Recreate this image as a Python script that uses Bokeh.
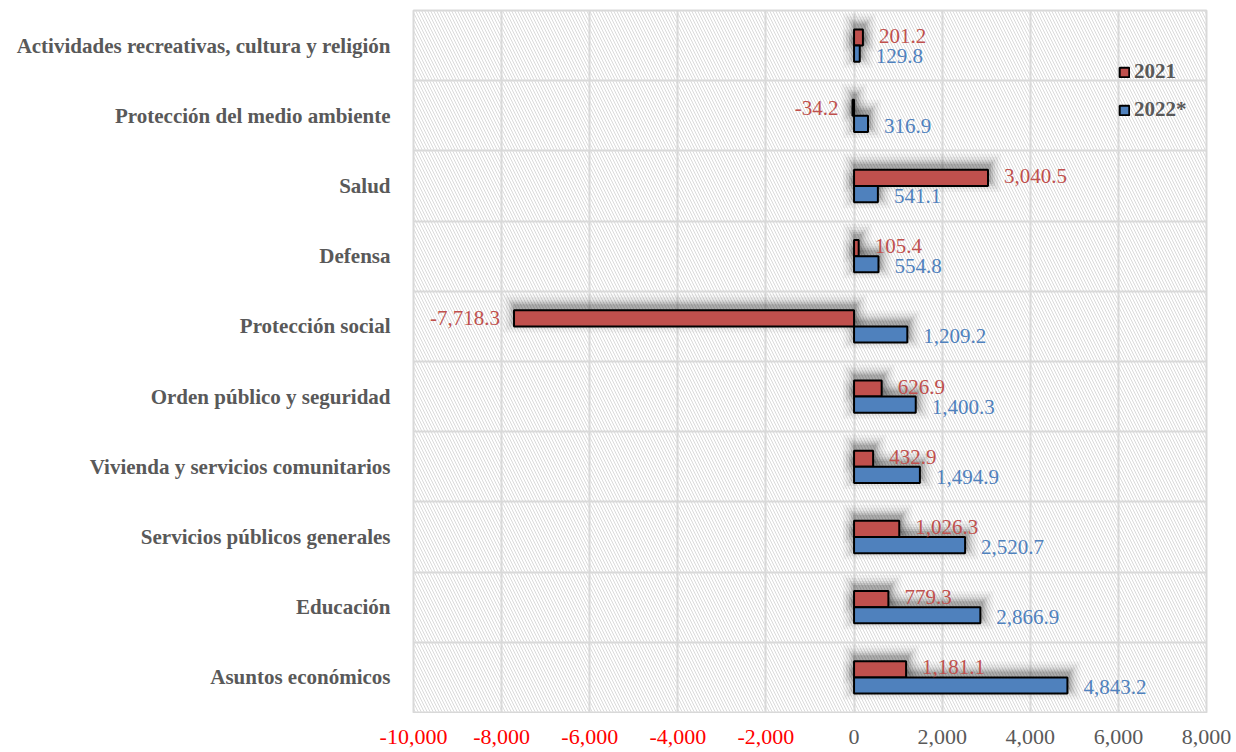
from bokeh.plotting import figure
from bokeh.layouts import column
from bokeh.models import (ColumnDataSource, Range1d, FixedTicker, BoxAnnotation,
                          Legend, LegendItem)
from bokeh.core.properties import value
from bokeh.embed import file_html
from bokeh.resources import INLINE

# ---------------- data ----------------
categories = [
    "Actividades recreativas, cultura y religión",
    "Protección del medio ambiente",
    "Salud",
    "Defensa",
    "Protección social",
    "Orden público y seguridad",
    "Vivienda y servicios comunitarios",
    "Servicios públicos generales",
    "Educación",
    "Asuntos económicos",
]
values_2021 = [201.2, -34.2, 3040.5, 105.4, -7718.3, 626.9, 432.9, 1026.3, 779.3, 1181.1]
values_2022 = [129.8, 316.9, 541.1, 554.8, 1209.2, 1400.3, 1494.9, 2520.7, 2866.9, 4843.2]
series_names = ["2021", "2022*"]
x_ticks = [-10000, -8000, -6000, -4000, -2000, 0, 2000, 4000, 6000, 8000]

# ---------------- styling ----------------
RED = "#C0504D"
BLUE = "#4F81BD"
GRAY_TXT = "#595959"
GRID = "#D9D9D9"
FONT = "Liberation Serif"

W = 1236
BL, BR, BT = 413, 30, 10
FRAME_W = W - BL - BR
FRAME_H = 702
H1 = BT + FRAME_H + 1
H2 = 752 - H1

n = len(categories)
cat_y = [n - 0.5 - i for i in range(n)]
dy = 0.115
bar_h = 0.23

def fmt(v):
    return f"{v:,.1f}"

red_src = ColumnDataSource(dict(
    y=[c + dy for c in cat_y], v=values_2021, zero=[0] * n,
    txt=[fmt(v) for v in values_2021]))
blue_src = ColumnDataSource(dict(
    y=[c - dy for c in cat_y], v=values_2022, zero=[0] * n,
    txt=[fmt(v) for v in values_2022]))

p = figure(width=W, height=H1, output_backend="svg", toolbar_location=None,
           x_range=Range1d(x_ticks[0], x_ticks[-1]), y_range=Range1d(0, n),
           min_border_left=BL, min_border_right=BR, min_border_top=BT,
           min_border_bottom=1)
p.frame_align = False

p.background_fill_color = "white"
p.border_fill_color = "white"
p.outline_line_color = GRID
p.outline_line_width = 2

# hatched plot area
hatch = BoxAnnotation(fill_alpha=0, line_alpha=0, hatch_pattern="\\",
                      hatch_color="#DADADA", hatch_scale=6, hatch_weight=1,
                      level="underlay")
p.add_layout(hatch)

# grids
p.xgrid.ticker = FixedTicker(ticks=x_ticks)
p.xgrid.grid_line_color = GRID
p.xgrid.grid_line_width = 2
p.ygrid.ticker = FixedTicker(ticks=list(range(n + 1)))
p.ygrid.grid_line_color = GRID
p.ygrid.grid_line_width = 2

# shadows (soft, layered, shifted upward)
px_x = (x_ticks[-1] - x_ticks[0]) / FRAME_W
px_y = n / FRAME_H
for e, a in [(11, 0.035), (8, 0.05), (5, 0.07), (3, 0.09), (1, 0.12)]:
    for src, yo in [(red_src, dy), (blue_src, -dy)]:
        ys = [c + yo + 5 * px_y for c in cat_y]
        vals = src.data["v"]
        lefts = [min(0, v) - e * px_x for v in vals]
        rights = [max(0, v) + (e + 2) * px_x for v in vals]
        p.hbar(y=ys, left=lefts, right=rights, height=bar_h + 2 * e * px_y,
               fill_color="black", fill_alpha=a, line_alpha=0)

r21 = p.hbar(y="y", left="zero", right="v", height=bar_h, source=red_src,
             fill_color=RED, line_color="black", line_width=2)
r22 = p.hbar(y="y", left="zero", right="v", height=bar_h, source=blue_src,
             fill_color=BLUE, line_color="black", line_width=2)

# data labels
pos_r = ColumnDataSource(dict(
    x=[v for v in values_2021 if v >= 0],
    y=[c + dy for c, v in zip(cat_y, values_2021) if v >= 0],
    t=[fmt(v) for v in values_2021 if v >= 0]))
neg_r = ColumnDataSource(dict(
    x=[v for v in values_2021 if v < 0],
    y=[c + dy for c, v in zip(cat_y, values_2021) if v < 0],
    t=[fmt(v) for v in values_2021 if v < 0]))
p.text(x="x", y="y", text="t", source=pos_r, x_offset=16, y_offset=-2,
       text_align="left", text_baseline="middle", text_color=RED,
       text_font=value(FONT), text_font_size="21px")
p.text(x="x", y="y", text="t", source=neg_r, x_offset=-14, y_offset=0,
       text_align="right", text_baseline="middle", text_color=RED,
       text_font=value(FONT), text_font_size="21px")
p.text(x="v", y="y", text="txt", source=blue_src, x_offset=16, y_offset=2,
       text_align="left", text_baseline="middle", text_color=BLUE,
       text_font=value(FONT), text_font_size="21px")

# axes
p.xaxis.visible = False
p.yaxis.ticker = FixedTicker(ticks=cat_y)
p.yaxis.major_label_overrides = {c: name for c, name in zip(cat_y, categories)}
p.yaxis.major_label_text_font = FONT
p.yaxis.major_label_text_font_style = "bold"
p.yaxis.major_label_text_font_size = "21px"
p.yaxis.major_label_text_color = GRAY_TXT
p.yaxis.major_tick_line_color = None
p.yaxis.minor_tick_line_color = None
p.yaxis.axis_line_color = None
p.yaxis.major_label_standoff = 17

# legend
legend = Legend(items=[LegendItem(label=series_names[0], renderers=[r21]),
                       LegendItem(label=series_names[1], renderers=[r22])],
                location=(705, 590), orientation="vertical",
                glyph_width=12, glyph_height=12, label_standoff=4, spacing=13,
                padding=0, margin=0,
                label_text_font=FONT, label_text_font_style="bold",
                label_text_font_size="21px", label_text_color=GRAY_TXT,
                background_fill_alpha=0, border_line_alpha=0)
p.add_layout(legend)

# x tick label strip (same scale as the main frame, negative ticks in red)
scale = (x_ticks[-1] - x_ticks[0]) / FRAME_W
x2 = Range1d(x_ticks[0] - BL * scale, x_ticks[-1] + BR * scale)
p2 = figure(width=W, height=H2, output_backend="svg", toolbar_location=None,
            x_range=x2, y_range=Range1d(0, 1), min_border=0)
p2.frame_align = False
p2.axis.visible = False
p2.grid.visible = False
p2.outline_line_color = None
p2.background_fill_color = "white"
p2.border_fill_color = "white"
tick_src = ColumnDataSource(dict(
    x=x_ticks, y=[1] * len(x_ticks),
    t=[f"{t:,}" for t in x_ticks],
    c=["#FF0000" if t < 0 else GRAY_TXT for t in x_ticks]))
p2.text(x="x", y="y", text="t", source=tick_src, text_color="c",
        text_align="center", text_baseline="top", y_offset=16,
        text_font=value(FONT), text_font_size="22px")

layout = column(p, p2, spacing=0)
open("out.html", "w").write(file_html(layout, INLINE))
